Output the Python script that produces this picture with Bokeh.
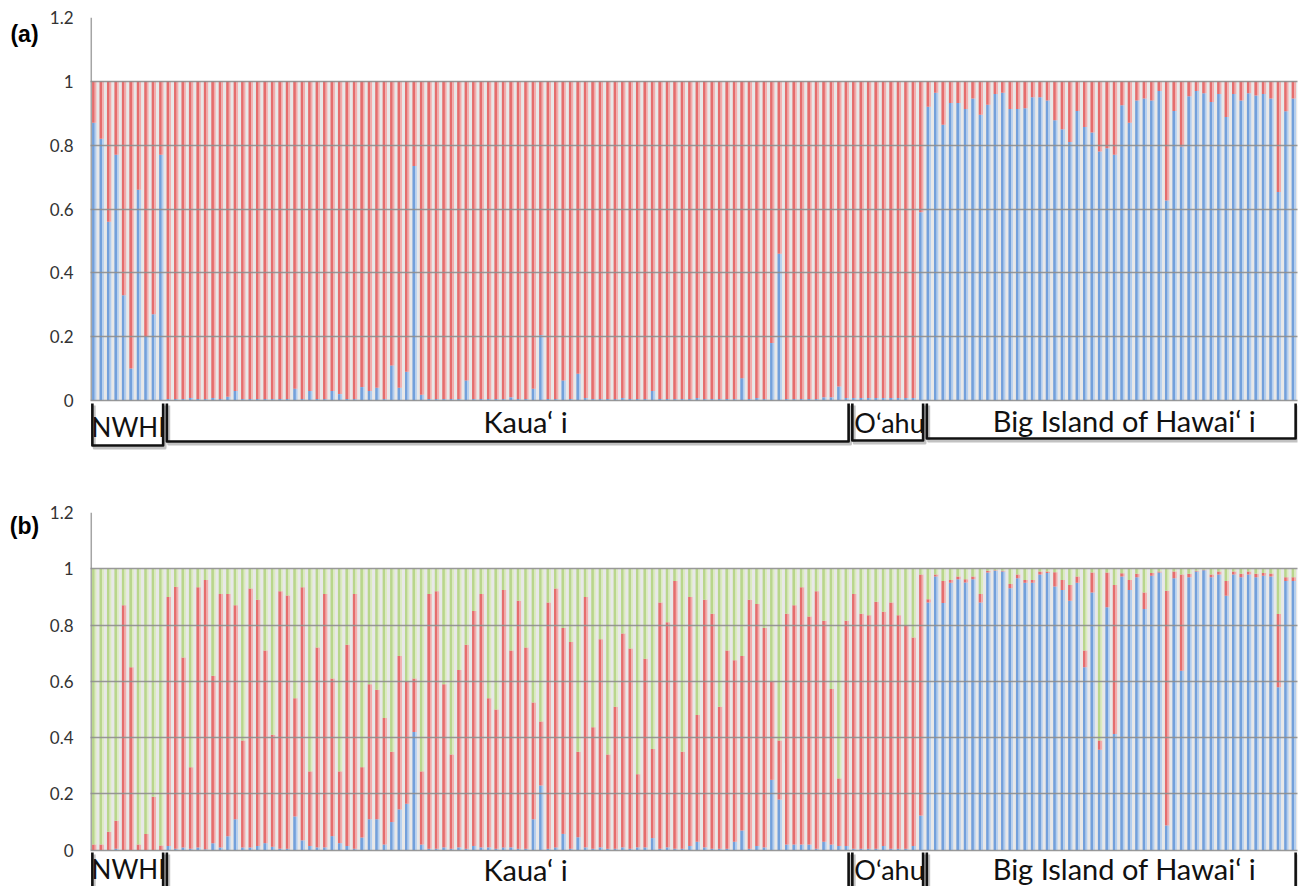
from bokeh.plotting import figure
from bokeh.models import Range1d, FixedTicker, ColumnDataSource
from bokeh.layouts import column, row
from bokeh.embed import file_html
from bokeh.resources import INLINE
from bokeh.core.properties import value

# ---------------- data ----------------
groups = ["NWHI", "Kaua\u2018 i", "O\u2018ahu", "Big Island of Hawai\u2018 i"]
group_sizes = [10, 92, 10, 50]
y_ticks = [0, 0.2, 0.4, 0.6, 0.8, 1, 1.2]
y_tick_labels = ["0", "0.2", "0.4", "0.6", "0.8", "1", "1.2"]
panel_letters = ["(a)", "(b)"]

# (a) K=2 : blue cluster membership (red = remainder)
a_blue_nwhi = [0.87, 0.82, 0.56, 0.77, 0.33, 0.10, 0.66, 0.20, 0.27, 0.77]
a_blue_kauai = [
    0.005, 0.005, 0.005, 0.008, 0.005, 0.005, 0.008, 0.005, 0.012, 0.03,
    0.005, 0.005, 0.005, 0.005, 0.005, 0.005, 0.005, 0.037, 0.005, 0.03,
    0.005, 0.005, 0.03, 0.02, 0.005, 0.005, 0.042, 0.03, 0.04, 0.005,
    0.11, 0.04, 0.09, 0.735, 0.018, 0.005, 0.005, 0.005, 0.005, 0.005,
    0.063, 0.005, 0.005, 0.005, 0.005, 0.005, 0.01, 0.005, 0.005, 0.037,
    0.205, 0.005, 0.005, 0.063, 0.005, 0.084, 0.008, 0.005, 0.005, 0.005,
    0.005, 0.008, 0.005, 0.005, 0.005, 0.03, 0.005, 0.005, 0.005, 0.005,
    0.005, 0.008, 0.005, 0.005, 0.005, 0.005, 0.005, 0.07, 0.005, 0.008,
    0.005, 0.18, 0.46, 0.005, 0.005, 0.005, 0.005, 0.005, 0.01, 0.01,
    0.044, 0.008]
a_blue_oahu = [0.008, 0.008, 0.008, 0.008, 0.008, 0.008, 0.008, 0.008, 0.008, 0.59]
a_blue_big = [
    0.92, 0.964, 0.864, 0.932, 0.932, 0.913, 0.946, 0.895, 0.927, 0.96,
    0.964, 0.913, 0.913, 0.916, 0.95, 0.95, 0.94, 0.878, 0.85, 0.81,
    0.907, 0.857, 0.84, 0.78, 0.79, 0.77, 0.925, 0.87, 0.94, 0.946,
    0.94, 0.97, 0.627, 0.907, 0.796, 0.953, 0.97, 0.963, 0.935, 0.96,
    0.888, 0.96, 0.94, 0.963, 0.956, 0.96, 0.946, 0.653, 0.906, 0.946]

# (b) K=3 : blue membership and cumulative top of red (green = remainder)
b_blue_nwhi = [0, 0, 0, 0.005, 0, 0, 0, 0, 0, 0]
b_redtop_nwhi = [0.02, 0.02, 0.066, 0.105, 0.87, 0.65, 0.02, 0.058, 0.19, 0.017]
b_blue_kauai = [
    0.015, 0.005, 0.01, 0.005, 0.01, 0.003, 0.025, 0.01, 0.05, 0.11,
    0.01, 0.01, 0.015, 0.025, 0.012, 0.005, 0.005, 0.12, 0.035, 0.015,
    0.01, 0.01, 0.05, 0.025, 0.015, 0.005, 0.045, 0.11, 0.11, 0.02,
    0.10, 0.145, 0.165, 0.42, 0.02, 0.005, 0.005, 0.01, 0.005, 0.01,
    0.005, 0.015, 0.01, 0.01, 0.005, 0.01, 0.01, 0.005, 0.005, 0.11,
    0.23, 0.005, 0.01, 0.058, 0.005, 0.046, 0.01, 0.005, 0.01, 0.005,
    0.005, 0.01, 0.005, 0.01, 0.01, 0.043, 0.005, 0.01, 0.005, 0.005,
    0.015, 0.03, 0.01, 0.005, 0.005, 0.005, 0.03, 0.07, 0.005, 0.015,
    0.01, 0.25, 0.18, 0.02, 0.02, 0.02, 0.02, 0.005, 0.03, 0.02,
    0.015, 0.015]
b_redtop_kauai = [
    0.90, 0.936, 0.685, 0.295, 0.934, 0.96, 0.62, 0.91, 0.91, 0.87,
    0.39, 0.93, 0.89, 0.71, 0.41, 0.92, 0.905, 0.54, 0.934, 0.28,
    0.72, 0.91, 0.61, 0.28, 0.73, 0.91, 0.295, 0.59, 0.57, 0.47,
    0.35, 0.69, 0.60, 0.61, 0.28, 0.91, 0.92, 0.59, 0.34, 0.64,
    0.73, 0.85, 0.91, 0.54, 0.50, 0.925, 0.71, 0.886, 0.72, 0.525,
    0.457, 0.88, 0.93, 0.79, 0.74, 0.35, 0.90, 0.437, 0.75, 0.34,
    0.51, 0.77, 0.717, 0.27, 0.68, 0.36, 0.88, 0.81, 0.957, 0.35,
    0.90, 0.48, 0.89, 0.84, 0.51, 0.71, 0.675, 0.69, 0.89, 0.875,
    0.79, 0.60, 0.39, 0.84, 0.87, 0.934, 0.83, 0.92, 0.815, 0.573,
    0.255, 0.815]
b_blue_oahu = [0.005, 0.005, 0.005, 0.005, 0.015, 0.005, 0.005, 0.005, 0.015, 0.123]
b_redtop_oahu = [0.91, 0.84, 0.835, 0.883, 0.847, 0.88, 0.835, 0.80, 0.756, 0.98]
b_blue_big = [
    0.88, 0.973, 0.878, 0.95, 0.963, 0.951, 0.963, 0.88,
    0.987, 0.993, 0.99, 0.931, 0.966, 0.95, 0.95, 0.98, 0.985, 0.937,
    0.925, 0.886, 0.95, 0.65, 0.916, 0.357, 0.863, 0.413, 0.973, 0.925,
    0.97, 0.857, 0.975, 0.987, 0.088, 0.966, 0.638, 0.97, 0.99, 0.995,
    0.97, 0.98, 0.904, 0.98, 0.97, 0.98, 0.97, 0.975, 0.973, 0.579,
    0.957, 0.957]
b_redtop_big = [
    0.892, 0.98, 0.957, 0.96, 0.973, 0.963, 0.973, 0.91,
    0.993, 0.995, 0.993, 0.946, 0.98, 0.96, 0.96, 0.99, 0.99, 0.988,
    0.96, 0.942, 0.973, 0.71, 0.987, 0.39, 0.987, 0.942, 0.984, 0.96,
    0.982, 0.916, 0.985, 0.99, 0.922, 0.99, 0.98, 0.982, 0.993, 0.997,
    0.98, 0.99, 0.957, 0.99, 0.982, 0.99, 0.982, 0.985, 0.983, 0.839,
    0.97, 0.97]

# ---------------- assemble ----------------
a_blue = a_blue_nwhi + a_blue_kauai + a_blue_oahu + a_blue_big
b_blue = b_blue_nwhi + b_blue_kauai + b_blue_oahu + b_blue_big
b_redtop = b_redtop_nwhi + b_redtop_kauai + b_redtop_oahu + b_redtop_big
N = sum(group_sizes)
assert len(a_blue) == N and len(b_blue) == N and len(b_redtop) == N

a_red = [1 - v for v in a_blue]
b_red = [t - v for t, v in zip(b_redtop, b_blue)]
b_green = [1 - t for t in b_redtop]

BLUE = ("#73a0db", "#b2cef0")
RED = ("#e56d6d", "#f5abab")
GREEN = ("#b9d68c", "#dcecbf")

LETTER_W = 42
MAIN_W = 1305 - LETTER_W
LEFT = 90 - LETTER_W
RIGHT = 8
FRAME_W = MAIN_W - LEFT - RIGHT
PX_PER_BAR = FRAME_W / N
TXT_SHIFT = -10  # svg text baseline correction (px)


def xd(px):
    return (px - 90) / PX_PER_BAR


def make_panel(cols, colors, letter, fig_top, fig_h, top_border, zero_page,
               letter_y_fig, label_base_page, br_top_page, br_bottom_page):
    frame_top = fig_top + top_border
    ppu = (zero_page - frame_top) / 1.2
    y0 = -((fig_top + fig_h) - zero_page) / ppu

    def yd(py):
        return (zero_page - py) / ppu

    # small figure holding the panel letter
    lf = figure(width=LETTER_W, height=fig_h, x_range=Range1d(0, LETTER_W),
                y_range=Range1d(fig_h, 0), output_backend="svg",
                toolbar_location=None, x_axis_location=None,
                y_axis_location=None, min_border=0, outline_line_color=None)
    lf.grid.visible = False
    lf.text(x=[24], y=[letter_y_fig], text=[letter],
            text_font=value("Liberation Sans"), text_font_style="bold",
            text_font_size="23px", text_align="center",
            text_baseline="alphabetic", text_color="black")

    p = figure(width=MAIN_W, height=fig_h, x_range=Range1d(0, N),
               y_range=Range1d(y0, 1.2), output_backend="svg",
               toolbar_location=None, x_axis_location=None,
               min_border_left=LEFT, min_border_right=RIGHT,
               min_border_top=top_border, min_border_bottom=0,
               outline_line_color=None, background_fill_color="white",
               border_fill_color="white")

    ax = p.yaxis[0]
    ax.ticker = FixedTicker(ticks=y_ticks)
    ax.major_label_overrides = {t: s for t, s in zip(y_ticks, y_tick_labels)}
    ax.axis_line_color = None
    ax.major_tick_line_color = None
    ax.minor_tick_line_color = None
    ax.major_tick_out = 0
    ax.major_tick_in = 0
    ax.major_label_standoff = 17
    ax.major_label_text_font = "Lato"
    ax.major_label_text_font_size = "17px"
    ax.major_label_text_color = "#333333"

    p.xgrid.visible = False
    p.ygrid.ticker = FixedTicker(ticks=y_ticks)
    p.ygrid.grid_line_color = "#8e8e8e"
    p.ygrid.grid_line_width = 1.6
    p.ygrid.grid_line_alpha = 0.9
    p.ygrid.level = "overlay"

    p.quad(left=0, right=N, bottom=0, top=1, fill_color="#e8e8e8",
           line_color=None)

    names = list(cols.keys())
    data = dict(cols)
    data["xdark"] = [i + 0.5 - 0.11 for i in range(N)]
    data["xlight"] = [i + 0.5 + 0.18 for i in range(N)]
    src = ColumnDataSource(data)
    p.vbar_stack(names, x="xdark", width=0.36, color=[c[0] for c in colors],
                 source=src, line_color=None)
    p.vbar_stack(names, x="xlight", width=0.22, color=[c[1] for c in colors],
                 source=src, line_color=None)

    p.segment(x0=[0.07], y0=[0], x1=[0.07], y1=[1.2], line_color="#a5a5a5",
              line_width=2)

    # group brackets
    starts = [sum(group_sizes[:k]) for k in range(len(group_sizes))]
    ends = [s + n for s, n in zip(starts, group_sizes)]
    xs, ys, sxs, sys_ = [], [], [], []
    for s, e, bb in zip(starts, ends, br_bottom_page):
        x0, x1 = s + 0.25, e - 0.25
        xs.append([x0, x0, x1, x1])
        ys.append([yd(br_top_page), yd(bb), yd(bb), yd(br_top_page)])
        sxs.append([x0 + 0.25, x0 + 0.25, x1 + 0.25, x1 + 0.25])
        sys_.append([yd(br_top_page + 2), yd(bb + 2.5), yd(bb + 2.5),
                     yd(br_top_page + 2)])
    p.multi_line(sxs, sys_, line_color="#9a9a9a", line_width=3,
                 line_alpha=0.6, line_join="round")
    p.multi_line(xs, ys, line_color="#111111", line_width=2.6,
                 line_join="round")

    label_px = [128, 525, 889, 1124]
    label_sizes = ["26px", "29px", "27px", "29px"]
    p.text(x=[xd(v) for v in label_px],
           y=[yd(b + TXT_SHIFT) for b in label_base_page],
           text=groups, text_font=value("Lato"),
           text_font_size=label_sizes,
           text_align="center", text_baseline="alphabetic",
           text_color="#111111")
    return row(lf, p)


pa = make_panel({"blue": a_blue, "red": a_red}, [BLUE, RED], panel_letters[0],
                fig_top=0, fig_h=490, top_border=17, zero_page=400,
                letter_y_fig=17,
                label_base_page=[436.5, 431, 431.5, 429.5],
                br_top_page=403,
                br_bottom_page=[445, 441, 440, 438])

pb = make_panel({"blue": b_blue, "red": b_red, "green": b_green},
                [BLUE, RED, GREEN], panel_letters[1],
                fig_top=490, fig_h=396, top_border=22, zero_page=849.7,
                letter_y_fig=14,
                label_base_page=[878.5, 878.5, 879, 878],
                br_top_page=852,
                br_bottom_page=[920, 920, 920, 920])

layout = column(pa, pb)
open("out.html", "w").write(file_html(layout, INLINE))
